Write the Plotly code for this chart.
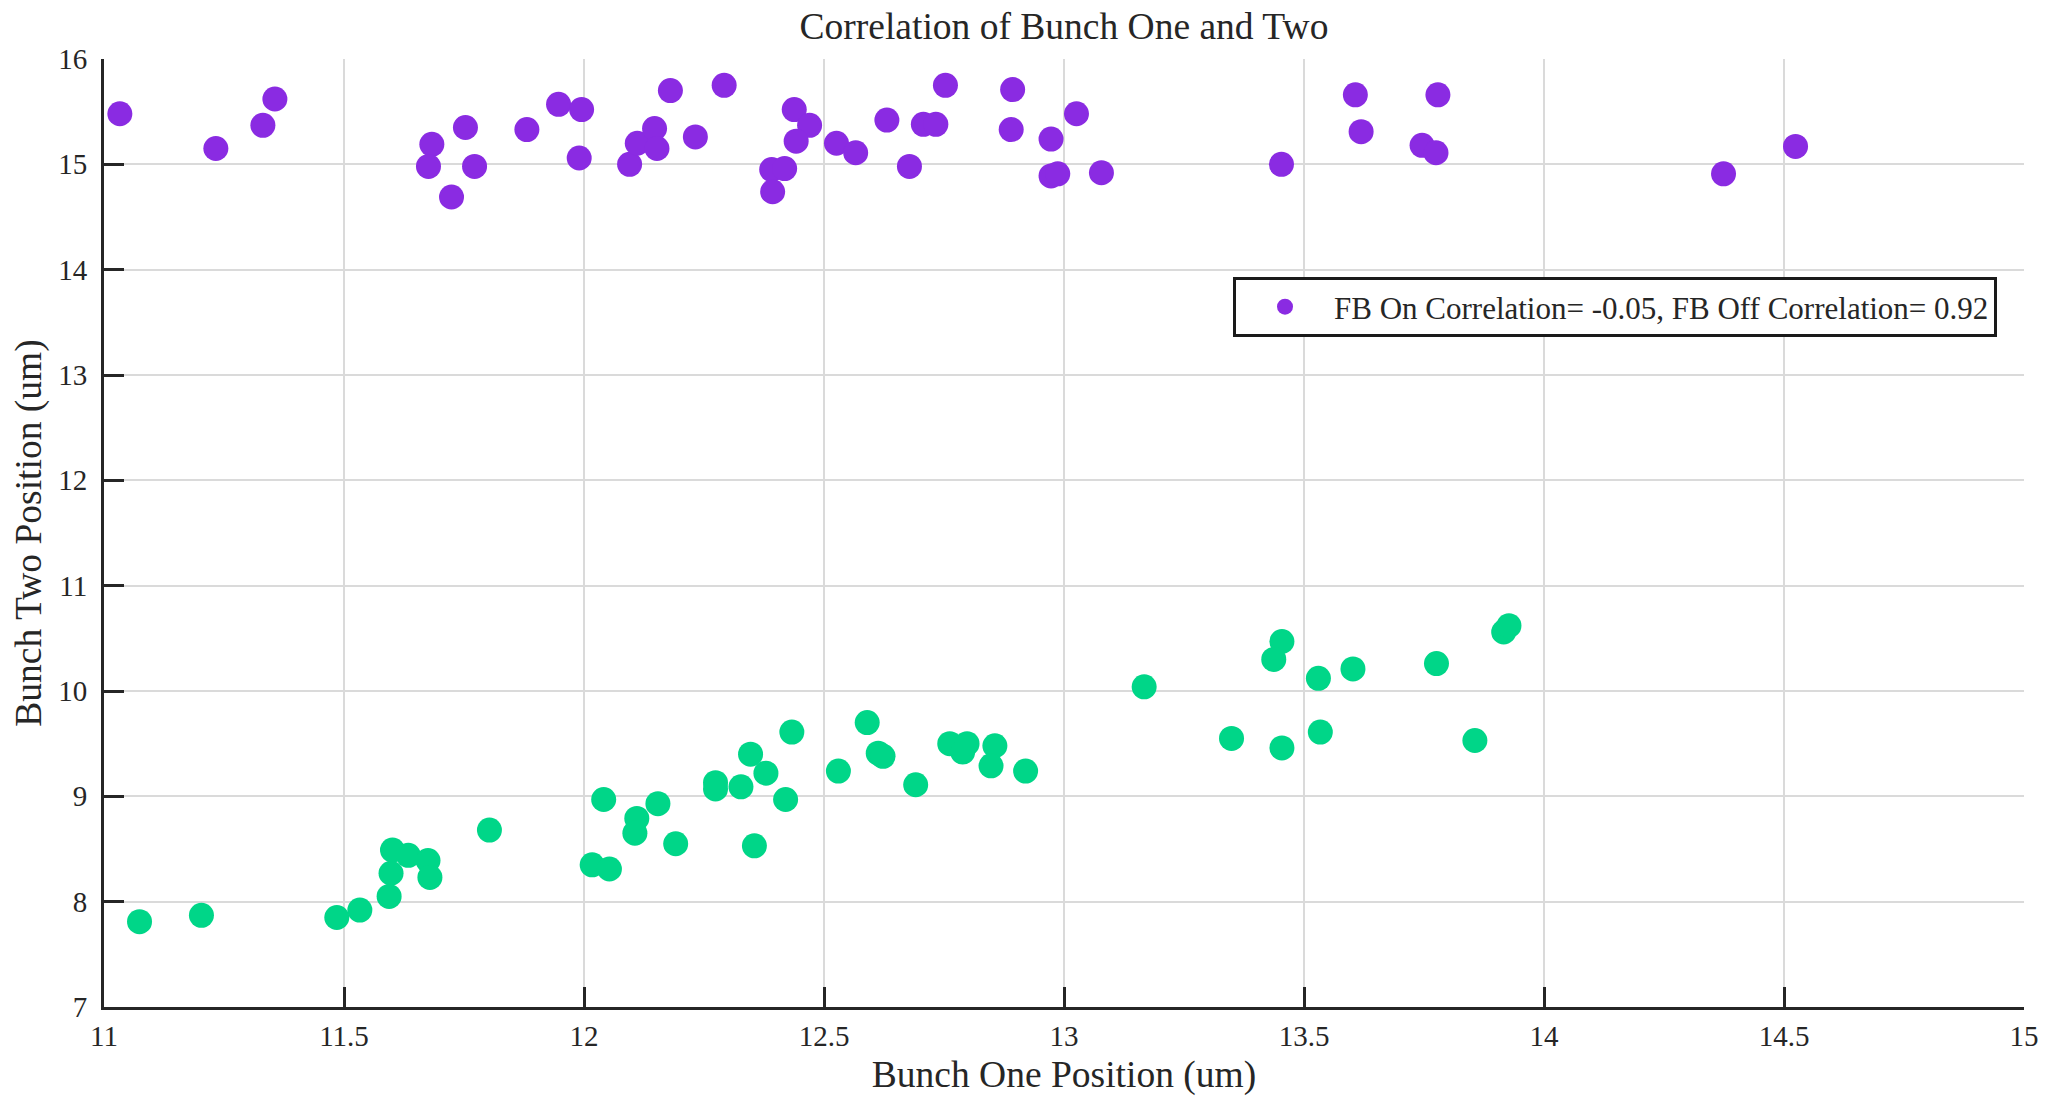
import plotly.graph_objects as go

# FB On (purple): Bunch One position vs Bunch Two position
fb_on_x = [11.033, 11.233, 11.331, 11.356, 11.683, 11.676, 11.724, 11.753, 11.772, 11.881,
           11.947, 11.995, 11.990, 12.095, 12.111, 12.147, 12.152, 12.180, 12.232, 12.292,
           12.391, 12.418, 12.393, 12.438, 12.470, 12.442, 12.526, 12.566, 12.631, 12.678,
           12.707, 12.733, 12.753, 12.893, 12.890, 12.973, 12.973, 12.987, 13.026, 13.078,
           13.453, 13.607, 13.619, 13.746, 13.775, 13.779, 14.374, 14.524]
fb_on_y = [15.48, 15.15, 15.37, 15.62, 15.19, 14.98, 14.69, 15.35, 14.98, 15.33,
           15.57, 15.52, 15.06, 15.00, 15.20, 15.34, 15.15, 15.70, 15.26, 15.75,
           14.95, 14.96, 14.74, 15.52, 15.37, 15.22, 15.20, 15.11, 15.42, 14.98,
           15.38, 15.38, 15.75, 15.71, 15.33, 15.24, 14.89, 14.91, 15.48, 14.92,
           15.00, 15.66, 15.31, 15.18, 15.11, 15.66, 14.91, 15.17]

# FB Off (green)
fb_off_x = [11.074, 11.203, 11.485, 11.533, 11.594, 11.598, 11.601, 11.634, 11.675, 11.679,
            11.803, 12.041, 12.017, 12.053, 12.110, 12.106, 12.154, 12.191, 12.274, 12.274,
            12.327, 12.347, 12.379, 12.355, 12.420, 12.433, 12.530, 12.590, 12.613, 12.623,
            12.691, 12.762, 12.789, 12.798, 12.856, 12.848, 12.920, 13.167, 13.454, 13.437,
            13.349, 13.454, 13.530, 13.534, 13.602, 13.776, 13.856, 13.916, 13.927]
fb_off_y = [7.81, 7.87, 7.85, 7.92, 8.05, 8.27, 8.49, 8.44, 8.39, 8.23,
            8.68, 8.97, 8.35, 8.31, 8.79, 8.65, 8.93, 8.55, 9.13, 9.07,
            9.09, 9.40, 9.22, 8.53, 8.97, 9.61, 9.24, 9.70, 9.41, 9.38,
            9.11, 9.50, 9.42, 9.50, 9.48, 9.29, 9.24, 10.04, 10.47, 10.30,
            9.55, 9.46, 10.12, 9.61, 10.21, 10.26, 9.53, 10.56, 10.62]

legend_text = "FB On Correlation= -0.05, FB Off Correlation= 0.92"
title_text = "Correlation of Bunch One and Two"
x_title = "Bunch One Position (um)"
y_title = "Bunch Two Position (um)"
x_ticks = [11, 11.5, 12, 12.5, 13, 13.5, 14, 14.5, 15]
x_ticktext = ["11", "11.5", "12", "12.5", "13", "13.5", "14", "14.5", "15"]
y_ticks = [7, 8, 9, 10, 11, 12, 13, 14, 15, 16]

PURPLE = "#8A2BE2"
GREEN = "#00D688"
FONT = "Liberation Serif, Times New Roman, serif"
INK = "#262626"

fig = go.Figure()
fig.add_trace(go.Scatter(x=fb_on_x, y=fb_on_y, mode="markers", name=legend_text,
                         marker=dict(color=PURPLE, size=25, line=dict(width=0))))
fig.add_trace(go.Scatter(x=fb_off_x, y=fb_off_y, mode="markers", name="FB Off",
                         showlegend=False,
                         marker=dict(color=GREEN, size=25, line=dict(width=0))))

axis_common = dict(
    showline=True, linecolor=INK, linewidth=3,
    ticks="inside", ticklen=20, tickwidth=3, tickcolor=INK,
    showgrid=True, gridcolor="#dadada", gridwidth=2,
    zeroline=False, mirror=False,
    tickfont=dict(family=FONT, size=29, color=INK),
)

fig.update_layout(
    width=2046, height=1096,
    margin=dict(l=104, r=22, t=59, b=89, autoexpand=False),
    paper_bgcolor="white", plot_bgcolor="white",
    font=dict(family=FONT, color=INK),
    title=dict(text=title_text, x=(104 + 2024) / 2 / 2046, xanchor="center",
               y=1 - 26 / 1096, yanchor="middle",
               font=dict(family=FONT, size=37.5, color=INK)),
    xaxis=dict(range=[11, 15], tickvals=x_ticks, ticktext=x_ticktext,
               title=dict(text=x_title, font=dict(family=FONT, size=37.5, color=INK), standoff=17),
               ticklabelstandoff=1, automargin=False, **axis_common),
    yaxis=dict(range=[7, 16], tickvals=y_ticks,
               title=dict(text=y_title, font=dict(family=FONT, size=37.5, color=INK), standoff=6),
               ticklabelstandoff=8, automargin=False, **axis_common),
    legend=dict(x=(1997 - 104) / 1920, xanchor="right",
                y=(1007 - 307) / 948, yanchor="middle",
                bgcolor="white", bordercolor="#1a1a1a", borderwidth=3,
                font=dict(family=FONT, size=31, color=INK),
                itemwidth=88),
    showlegend=True,
)

fig.write_html("out.html")
